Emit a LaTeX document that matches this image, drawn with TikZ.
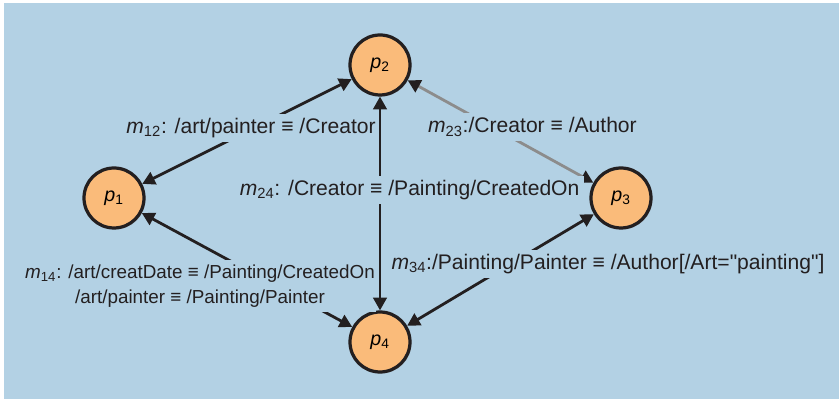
\documentclass[tikz,border=0pt]{standalone}
\usepackage{fontspec}
\setmainfont{Liberation Sans}
\usetikzlibrary{arrows.meta,shadows}
\definecolor{fondbleu}{RGB}{179,209,228}
\definecolor{peche}{RGB}{250,187,122}
\definecolor{gristrait}{RGB}{140,140,140}
\definecolor{encre}{RGB}{35,31,32}
\tikzset{pointe/.tip={Triangle[length=9pt,width=9.5pt,color=encre]}}
\begin{document}
\begin{tikzpicture}
\tikzset{peer/.style={draw=encre, circle, line width=2.3pt, fill=peche, minimum size=1.5cm, inner sep=0pt,
    font=\fontsize{14}{16}\selectfont, drop shadow={shadow xshift=1pt, shadow yshift=-1pt, opacity=0.3}},
  lien/.style={draw=encre, line width=2pt, pointe-pointe},
  etiq/.style={fill=fondbleu, text=encre, inner sep=3pt, font=\fontsize{15}{18}\selectfont, align=center}}
\useasboundingbox (0,0) rectangle (20.975,10.05);
\fill[fondbleu] (0.1,0.075) rectangle (20.975,9.975);
\node[peer] (P1) at (2.85,5.1) {\textit{p}\textsubscript{1}};
\node[peer] (P2) at (9.5,8.425) {\textit{p}\textsubscript{2}};
\node[peer] (P3) at (15.525,5.1) {\textit{p}\textsubscript{3}};
\node[peer] (P4) at (9.5,1.5) {\textit{p}\textsubscript{4}};
\draw[lien] (P1) -- (P2);
\draw[lien, draw=gristrait] (P2) -- (P3);
\draw[lien] (P1) -- (P4);
\draw[lien] (P3) -- (P4);
\node[etiq] (M12) at (6.275,6.85) {\textit{m}\textsubscript{12}: /art/painter ≡ /Creator};
\node[etiq] (M23) at (13.31,6.875) {\textit{m}\textsubscript{23}:/Creator ≡ /Author};
\node[etiq, inner xsep=1pt, font=\fontsize{13.4}{18}\selectfont] (M14) at (5.0,2.9)
  {\textit{m}\textsubscript{14}: /art/creatDate ≡ /Painting/CreatedOn\\ /art/painter ≡ /Painting/Painter};
\node[etiq, inner xsep=1pt] (M34) at (15.2,3.45) {\textit{m}\textsubscript{34}:/Painting/Painter ≡ /Author[/Art=\textquotedbl painting\textquotedbl]};
\draw[lien] (P2) -- (P4);
\node[etiq] (M24) at (10.24,5.3) {\textit{m}\textsubscript{24}: /Creator ≡ /Painting/CreatedOn};
\end{tikzpicture}
\end{document}
